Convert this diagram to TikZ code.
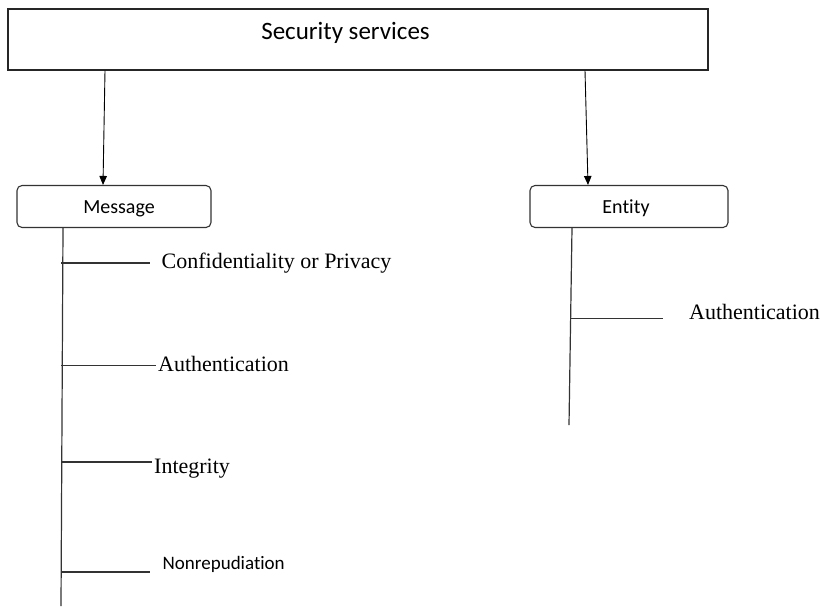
\documentclass[tikz,border=0pt]{standalone}
\usepackage{fontspec}
\setmainfont[Ligatures={NoCommon}]{Liberation Serif}
\newfontfamily\boxfont[Ligatures={NoCommon}]{Carlito}
\usetikzlibrary{arrows.meta}

\begin{document}
\begin{tikzpicture}[
    x=1pt, y=-1pt,
    mainbox/.style={draw=black!85, line width=1.1pt, minimum width=700pt,
                    minimum height=61pt, inner sep=0pt},
    catbox/.style={draw=black!80, line width=1.1pt, rounded corners=5pt,
                   minimum height=42pt, inner sep=0pt},
    boxtext/.style={font=\boxfont\fontsize{20}{24}\selectfont,
                    inner sep=0pt, anchor=base},
    item/.style={font=\fontsize{22}{26}\selectfont, inner sep=0pt,
                 anchor=base west},
    link/.style={-{Triangle[length=9pt, width=7.5pt]}, line width=0.9pt},
    trunk/.style={black!80, line width=1.2pt},
]
\useasboundingbox (0,0) rectangle (821,606);

% ---- top box ----
\node[mainbox] (sec) at (358,39.5) {};
\node[boxtext, font=\boxfont\fontsize{25}{29}\selectfont] (sectext)
    at (345.5,39.5) {Security services};

% ---- Message / Entity ----
\node[catbox, minimum width=194pt] (msg) at (114,206.5) {};
\node[boxtext] (msgtext) at (119,213) {Message};
\node[catbox, minimum width=198pt] (ent) at (629,206.5) {};
\node[boxtext] (enttext) at (626,213) {Entity};

\draw[link] ([xshift=-253pt]sec.south) -- ([xshift=-11pt]msg.north);
\draw[link] ([xshift=227pt]sec.south) -- ([xshift=-41pt]ent.north);

% ---- Message branches ----
\coordinate (mbot) at (61,606);
\draw[trunk] ([xshift=-51pt]msg.south) -- (mbot);
\coordinate (m1) at (61,263);   \coordinate (m1e) at (150,263);
\coordinate (m2) at (61,365.5); \coordinate (m2e) at (156,365.5);
\coordinate (m3) at (61,462);   \coordinate (m3e) at (152,462);
\coordinate (m4) at (61,572);   \coordinate (m4e) at (150,572);
\draw[trunk] (m1) -- (m1e);
\draw[trunk] (m2) -- (m2e);
\draw[trunk] (m3) -- (m3e);
\draw[trunk] (m4) -- (m4e);
\node[item] (conf) at (161.5,268.3) {Confidentiality or Privacy};
\node[item] (mauth) at (158,371) {Authentication};
\node[item] (integ) at (154,473.3) {Integrity};
\node[item, font=\boxfont\fontsize{19}{23}\selectfont] (nonrep)
    at (162.5,569.5) {Nonrepudiation};

% ---- Entity branch ----
\coordinate (ebot) at (569,425);
\draw[trunk] ([xshift=-57pt]ent.south) -- (ebot);
\coordinate (e1) at (571,318.5); \coordinate (e1e) at (663,318.5);
\draw[trunk] (e1) -- (e1e);
\node[item] (eauth) at (689,319) {Authentication};
\end{tikzpicture}
\end{document}
